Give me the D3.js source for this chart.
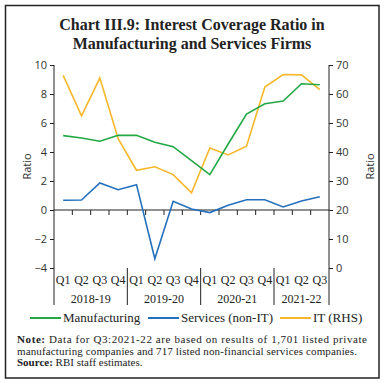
<!DOCTYPE html>
<html><head><meta charset="utf-8">
<script src="https://cdn.jsdelivr.net/npm/d3@7"></script>
<style>body{margin:0;background:#fff}svg{display:block}</style>
</head><body>
<script>
const quarters = ["Q1","Q2","Q3","Q4","Q1","Q2","Q3","Q4","Q1","Q2","Q3","Q4","Q1","Q2","Q3"];
const years = ["2018-19","2019-20","2020-21","2021-22"];
const yearCounts = [4,4,4,3];
const manufacturing = [5.13,4.97,4.74,5.15,5.15,4.67,4.37,3.4,2.44,4.55,6.62,7.33,7.52,8.71,8.64];
const services = [0.67,0.69,1.86,1.40,1.75,-3.36,0.6,0.07,-0.18,0.32,0.71,0.71,0.21,0.62,0.92];
const itRHS = [66.4,52.5,65.5,44.6,33.7,34.9,32.2,25.9,41.4,39.0,42.0,62.4,66.7,66.6,61.5];
const leftTicks = [10,8,6,4,2,0,-2,-4];
const rightTicks = [70,60,50,40,30,20,10,0];

const W=384,H=383;
const svg=d3.select("body").append("svg").attr("width",W).attr("height",H);
svg.append("rect").attr("x",5.5).attr("y",5.5).attr("width",373.5).attr("height",372.5)
  .attr("fill","#fff").attr("stroke","#222").attr("stroke-width",1.5);

const serif="'Liberation Serif','DejaVu Serif',serif";
const sans="'Open Sans','Liberation Sans',sans-serif";

svg.append("text").attr("x",192).attr("y",30).attr("text-anchor","middle")
  .attr("font-family",serif).attr("font-weight","bold").attr("font-size",16).attr("fill","#222")
  .text("Chart III.9: Interest Coverage Ratio in");
svg.append("text").attr("x",192).attr("y",49).attr("text-anchor","middle")
  .attr("font-family",serif).attr("font-weight","bold").attr("font-size",16).attr("fill","#222")
  .text("Manufacturing and Services Firms");

const x0=54,x1=329,yT=65,yB=268;
const x=d3.scaleBand().domain(d3.range(quarters.length)).range([x0,x1]);
const yL=d3.scaleLinear().domain([-4,10]).range([yB,yT]);
const yR=d3.scaleLinear().domain([0,70]).range([yB,yT]);
const cx=i=>x(i)+x.bandwidth()/2;

const gl=svg.append("g").attr("transform",`translate(${x0},0)`)
  .call(d3.axisLeft(yL).tickValues(leftTicks).tickSize(4).tickPadding(3).tickFormat(d3.format("d")));
gl.selectAll("text").attr("font-family",sans).attr("font-size",11).attr("fill","#333");
gl.select(".domain").attr("d",`M0,${yT}V${yB}`).attr("stroke","#222");
gl.selectAll(".tick line").attr("stroke","#222");

const gr=svg.append("g").attr("transform",`translate(${x1},0)`)
  .call(d3.axisRight(yR).tickValues(rightTicks).tickSize(4).tickPadding(3).tickFormat(d3.format("d")));
gr.selectAll("text").attr("font-family",sans).attr("font-size",11).attr("fill","#333");
gr.select(".domain").attr("d",`M0,${yT}V${yB}`).attr("stroke","#222");
gr.selectAll(".tick line").attr("stroke","#222");

svg.append("line").attr("x1",x0).attr("x2",x1).attr("y1",yL(0)).attr("y2",yL(0)).attr("stroke","#222");
svg.selectAll(".zt").data(d3.range(1,quarters.length)).join("line")
  .attr("x1",i=>x(i)).attr("x2",i=>x(i)).attr("y1",yL(0)).attr("y2",yL(0)+5).attr("stroke","#222");

svg.append("text").attr("transform",`translate(31,${(yT+yB)/2}) rotate(-90)`).attr("text-anchor","middle")
  .attr("font-family",sans).attr("font-size",11).attr("fill","#333").text("Ratio");
svg.append("text").attr("transform",`translate(374,${(yT+yB)/2}) rotate(-90)`).attr("text-anchor","middle")
  .attr("font-family",sans).attr("font-size",11).attr("fill","#333").text("Ratio");

svg.selectAll(".ql").data(quarters).join("text").attr("x",(d,i)=>cx(i)).attr("y",284)
  .attr("text-anchor","middle").attr("font-family",serif).attr("font-size",12).attr("fill","#222").text(d=>d);
let start=0;
const bounds=[x0];
years.forEach((yr,k)=>{
  const s=start,e=start+yearCounts[k]-1;
  svg.append("text").attr("x",(x(s)+x(e)+x.bandwidth())/2).attr("y",303).attr("text-anchor","middle")
    .attr("font-family",serif).attr("font-size",12).attr("fill","#222").text(yr);
  start+=yearCounts[k];
  bounds.push(start<quarters.length? x(start): x1);
});
svg.selectAll(".sep").data(bounds).join("line").attr("x1",d=>d).attr("x2",d=>d)
  .attr("y1",yB).attr("y2",305).attr("stroke","#222");

const colors={m:"#22a845",s:"#2470bd",it:"#f6b82a"};
const lineL=d3.line().x((d,i)=>cx(i)).y(d=>yL(d));
const lineR=d3.line().x((d,i)=>cx(i)).y(d=>yR(d));
svg.append("path").attr("d",lineR(itRHS)).attr("fill","none").attr("stroke",colors.it).attr("stroke-width",1.6);
svg.append("path").attr("d",lineL(manufacturing)).attr("fill","none").attr("stroke",colors.m).attr("stroke-width",1.6);
svg.append("path").attr("d",lineL(services)).attr("fill","none").attr("stroke",colors.s).attr("stroke-width",1.6);

const leg=[{c:colors.m,t:"Manufacturing",x:30},{c:colors.s,t:"Services (non-IT)",x:148},{c:colors.it,t:"IT (RHS)",x:280}];
leg.forEach(l=>{
  svg.append("line").attr("x1",l.x).attr("x2",l.x+31).attr("y1",318).attr("y2",318).attr("stroke",l.c).attr("stroke-width",2);
  svg.append("text").attr("x",l.x+33).attr("y",322).attr("font-family",serif).attr("font-size",13).attr("fill","#222").text(l.t);
});

const n1=svg.append("text").attr("x",17).attr("y",343).attr("font-family",serif).attr("font-size",11).attr("fill","#222")
  .attr("textLength",350).attr("lengthAdjust","spacing");
n1.append("tspan").attr("font-weight","bold").text("Note: ");
n1.append("tspan").text("Data for Q3:2021-22 are based on results of 1,701 listed private");
svg.append("text").attr("x",17).attr("y",355).attr("font-family",serif).attr("font-size",11).attr("fill","#222")
  .attr("textLength",340).attr("lengthAdjust","spacing")
  .text("manufacturing companies and 717 listed non-financial services companies.");
const n3=svg.append("text").attr("x",17).attr("y",366).attr("font-family",serif).attr("font-size",11).attr("fill","#222");
n3.append("tspan").attr("font-weight","bold").text("Source: ");
n3.append("tspan").text("RBI staff estimates.");
</script>
</body></html>
